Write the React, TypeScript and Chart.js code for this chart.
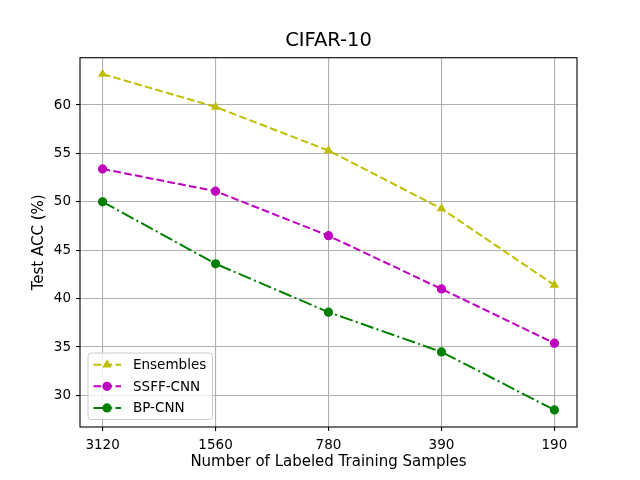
import { useEffect, useRef } from "react"
import { Chart, registerables } from "chart.js"
import type { Plugin } from "chart.js"

Chart.register(...registerables)

const categories = ["3120", "1560", "780", "390", "190"]
const ensembles = [63.2, 59.8, 55.3, 49.3, 41.4]
const ssffCnn = [53.4, 51.1, 46.5, 41.0, 35.4]
const bpCnn = [50.0, 43.6, 38.6, 34.5, 28.5]
const yTicks = [30, 35, 40, 45, 50, 55, 60]

const FONT = "'DejaVu Sans', sans-serif"

// box round the plot, like matplotlib's spines
const framePlugin: Plugin<"line"> = {
  id: "frame",
  afterDatasetsDraw(chart) {
    const { ctx, chartArea } = chart
    ctx.save()
    ctx.strokeStyle = "#000"
    ctx.lineWidth = 1.1
    ctx.strokeRect(chartArea.left, chartArea.top, chartArea.right - chartArea.left, chartArea.bottom - chartArea.top)
    ctx.restore()
  },
}

// legend drawn inside the plot, lower left
const insideLegend: Plugin<"line"> = {
  id: "insideLegend",
  afterDraw(chart) {
    const { ctx, chartArea } = chart
    const x = chartArea.left + 8
    const y = chartArea.bottom - 74
    const w = 124.5
    const h = 66.5
    ctx.save()
    ctx.beginPath()
    ctx.roundRect(x, y, w, h, 3)
    ctx.fillStyle = "rgba(255,255,255,0.8)"
    ctx.fill()
    ctx.strokeStyle = "#cccccc"
    ctx.lineWidth = 1
    ctx.stroke()

    chart.data.datasets.forEach((ds: any, i) => {
      const rowY = y + 11.7 + i * 21.6
      ctx.strokeStyle = ds.borderColor
      ctx.lineWidth = ds.borderWidth
      ctx.setLineDash(ds.borderDash || [])
      ctx.beginPath()
      ctx.moveTo(x + 5.5, rowY)
      ctx.lineTo(x + 33, rowY)
      ctx.stroke()
      ctx.setLineDash([])
      ctx.fillStyle = ds.borderColor
      ctx.beginPath()
      if (ds.pointStyle === "triangle") {
        const r = 5.4
        const cx = x + 19
        ctx.moveTo(cx, rowY - r)
        ctx.lineTo(cx + r * 0.866, rowY + r * 0.5)
        ctx.lineTo(cx - r * 0.866, rowY + r * 0.5)
        ctx.closePath()
      } else {
        ctx.arc(x + 19, rowY, 4.6, 0, Math.PI * 2)
      }
      ctx.fill()
      ctx.fillStyle = "#000"
      ctx.font = `13.5px ${FONT}`
      ctx.textBaseline = "middle"
      ctx.textAlign = "left"
      ctx.fillText(ds.label, x + 45, rowY + 0.7)
    })
    ctx.restore()
  },
}

export default function App() {
  const chartRef = useRef<HTMLCanvasElement>(null)
  const chartInstance = useRef<Chart<"line"> | null>(null)

  useEffect(() => {
    if (!chartRef.current) return
    if (chartInstance.current) {
      chartInstance.current.destroy()
    }

    const toPoints = (values: number[]) => values.map((y, i) => ({ x: i, y }))

    chartInstance.current = new Chart(chartRef.current, {
      type: "line",
      data: {
        datasets: [
          {
            label: "Ensembles",
            data: toPoints(ensembles),
            borderColor: "#bfbf00",
            backgroundColor: "#bfbf00",
            borderWidth: 2,
            borderDash: [7.7, 3.3],
            pointStyle: "triangle",
            pointRadius: 5.4,
            pointBorderWidth: 0,
          },
          {
            label: "SSFF-CNN",
            data: toPoints(ssffCnn),
            borderColor: "#bf00bf",
            backgroundColor: "#bf00bf",
            borderWidth: 2,
            borderDash: [7.7, 3.3],
            pointStyle: "circle",
            pointRadius: 4,
            pointBorderWidth: 1.2,
          },
          {
            label: "BP-CNN",
            data: toPoints(bpCnn),
            borderColor: "#008000",
            backgroundColor: "#008000",
            borderWidth: 2,
            borderDash: [13.3, 3.3, 2.1, 3.3],
            pointStyle: "circle",
            pointRadius: 4,
            pointBorderWidth: 1.2,
          },
        ],
      },
      options: {
        animation: false,
        responsive: true,
        maintainAspectRatio: false,
        layout: { padding: { left: 0, right: 63, top: 0, bottom: 0 } },
        font: { family: FONT },
        scales: {
          x: {
            type: "linear",
            min: -0.2,
            max: 4.2,
            afterBuildTicks: (axis) => {
              axis.ticks = categories.map((_, i) => ({ value: i }))
            },
            afterFit: (axis) => {
              axis.height = 53
            },
            ticks: {
              callback: (value) => categories[value as number],
              color: "#000",
              font: { family: FONT, size: 13.5 },
              padding: 6,
              maxRotation: 0,
            },
            grid: { color: "#b0b0b0", lineWidth: 1.1, tickColor: "#000", tickLength: 4 },
            border: { display: false },
            title: {
              display: true,
              text: "Number of Labeled Training Samples",
              color: "#000",
              font: { family: FONT, size: 15 },
              padding: { top: 0, bottom: 9 },
            },
          },
          y: {
            min: 26.74,
            max: 64.89,
            afterBuildTicks: (axis) => {
              axis.ticks = yTicks.map((v) => ({ value: v }))
            },
            afterFit: (axis) => {
              axis.width = 80
            },
            ticks: {
              color: "#000",
              font: { family: FONT, size: 13.5 },
              padding: 5,
            },
            grid: { color: "#b0b0b0", lineWidth: 1.1, tickColor: "#000", tickLength: 4 },
            border: { display: false },
            title: {
              display: true,
              text: "Test ACC (%)",
              color: "#000",
              font: { family: FONT, size: 15 },
              padding: { top: 30, bottom: 0 },
            },
          },
        },
        plugins: {
          legend: { display: false },
          tooltip: { enabled: false },
          title: {
            display: true,
            fullSize: false,
            text: "CIFAR-10",
            color: "#000",
            font: { family: FONT, size: 19.5, weight: "normal" },
            padding: { top: 28.8, bottom: 5.5 },
          },
        },
      },
      plugins: [framePlugin, insideLegend],
    })

    return () => {
      if (chartInstance.current) {
        chartInstance.current.destroy()
        chartInstance.current = null
      }
    }
  }, [])

  return (
    <div style={{ position: "fixed", top: 0, left: 0, width: 640, height: 480, background: "#fff" }}>
      <canvas ref={chartRef}></canvas>
    </div>
  )
}
